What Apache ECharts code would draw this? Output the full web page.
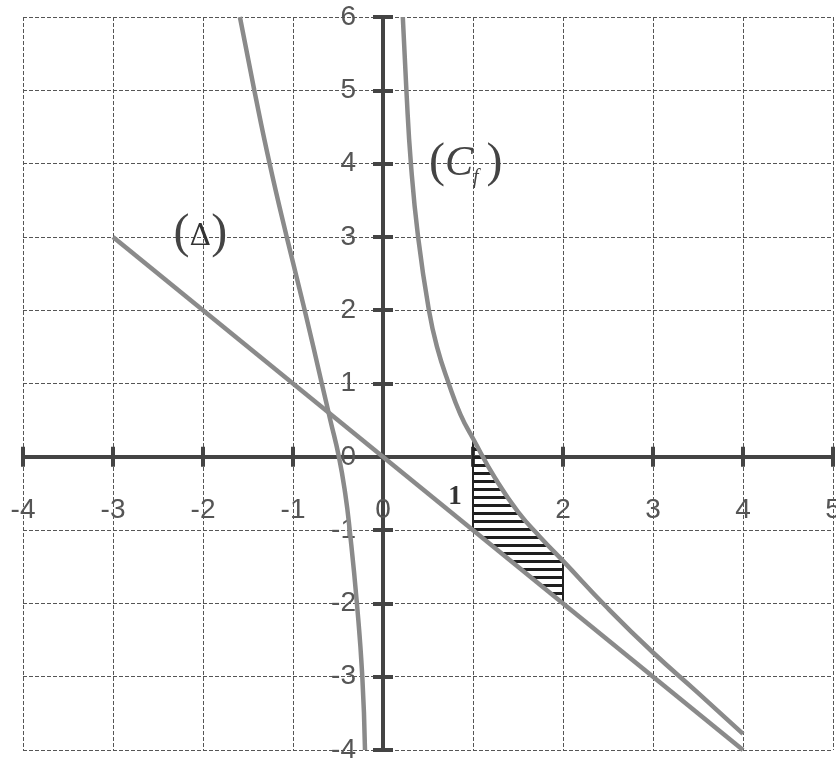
<!DOCTYPE html>
<html>
<head>
<meta charset="utf-8">
<title>Cf et Delta</title>
<script src="https://cdn.jsdelivr.net/npm/echarts@6.0.0/dist/echarts.min.js"></script>
<style>
html,body{margin:0;padding:0;background:#fff;}
#main{width:836px;height:767px;}
</style>
</head>
<body>
<div id="main"></div>
<script>
// courbe (Cf), branche x>0
var cfRightX = [0.22, 0.26, 0.31, 0.39, 0.51, 0.6, 0.73, 0.86, 1.0, 1.25, 1.5, 1.75, 2.0, 2.5, 3.0, 3.5, 4.0];
var cfRightY = [6.0, 5.0, 4.0, 3.0, 2.0, 1.5, 1.0, 0.58, 0.25, -0.3, -0.75, -1.1, -1.42, -2.07, -2.67, -3.22, -3.78];
// courbe, branche x<0
var cfLeftX = [-1.59, -1.43, -1.26, -1.07, -0.87, -0.68, -0.585, -0.49, -0.42, -0.37, -0.29, -0.23, -0.2];
var cfLeftY = [6, 5, 4, 3, 2, 1, 0.5, 0, -0.5, -1, -2, -3, -4];
// droite (Delta)
var deltaX = [-3, 4];
var deltaY = [3, -4];
// zone hachuree entre x=1 et x=2
var hatchX = [1, 1.25, 1.5, 1.75, 2];
var hatchTop = [0.25, -0.3, -0.75, -1.1, -1.42];
var hatchBottom = [-1, -1.25, -1.5, -1.75, -2];
// bornes des axes
var xMin = -4, xMax = 5;
var yMin = -4, yMax = 6;

// marges de la grille (px)
var W = 836, H = 767;
var gLeft = 23, gRight = 3, gTop = 17, gBottom = 17;
// decalage des etiquettes pour les ramener sur les axes passant par 0
var xLabOffset = -(0 - yMin) * (H - gTop - gBottom) / (yMax - yMin);
var yLabOffset = -(0 - xMin) * (W - gLeft - gRight) / (xMax - xMin);

function toPoints(xs, ys){
	var out = [];
	for (var i = 0; i < xs.length; i++) {
		out.push([xs[i], ys[i]]);
	}
	return out;
}

// motif de hachures horizontales
var pat = document.createElement('canvas');
pat.width = 8;
pat.height = 8;
var pctx = pat.getContext('2d');
pctx.fillStyle = '#1e1e1e';
pctx.fillRect(0, 0, 8, 3);

var axisCol = '#444';
var curveStyle = {color: '#8a8a8a', width: 4.5};
var labelFont = 'Liberation Sans';

var chart = echarts.init(document.getElementById('main'));
var option = {
	backgroundColor: '#fff',
	animation: false,
	grid: {left: gLeft, right: gRight, top: gTop, bottom: gBottom, containLabel: false, outerBoundsMode: 'none'},
	xAxis: [
		{
			type: 'value', min: xMin, max: xMax, interval: 1, position: 'bottom',
			axisLine: {onZero: true, onZeroAxisIndex: 0, lineStyle: {color: axisCol, width: 4}},
			axisTick: {length: 10, lineStyle: {color: axisCol, width: 4}},
			axisLabel: {show: false},
			splitLine: {show: true, lineStyle: {color: '#555', width: 1, type: [4, 2]}}
		},
		{
			type: 'value', min: xMin, max: xMax, interval: 1, position: 'top',
			axisLine: {onZero: true, onZeroAxisIndex: 0, lineStyle: {color: axisCol, width: 4}},
			axisTick: {length: 10, lineStyle: {color: axisCol, width: 4}},
			axisLabel: {show: false},
			splitLine: {show: false}
		},
		{
			// etiquettes de l'axe des x
			type: 'value', min: xMin, max: xMax, interval: 1, position: 'bottom', offset: xLabOffset,
			axisLine: {show: false, onZero: false},
			axisTick: {show: false},
			axisLabel: {
				margin: 39, fontSize: 28, color: '#555', fontFamily: labelFont,
				formatter: function(v){ return v === 1 ? '' : String(v); }
			},
			splitLine: {show: false}
		},
		{
			// le "1" sous la zone hachuree
			type: 'value', min: xMin, max: xMax, interval: 1, position: 'bottom', offset: xLabOffset,
			axisLine: {show: false, onZero: false},
			axisTick: {show: false},
			axisLabel: {
				margin: 27,
				formatter: function(v){ return v === 1 ? '{one|1}' : ''; },
				rich: {one: {fontSize: 27, fontWeight: 'bold', fontFamily: 'Liberation Serif', color: '#333', padding: [0, 36, 0, 0]}}
			},
			splitLine: {show: false}
		}
	],
	yAxis: [
		{
			type: 'value', min: yMin, max: yMax, interval: 1, position: 'left',
			axisLine: {onZero: true, onZeroAxisIndex: 0, lineStyle: {color: axisCol, width: 4}},
			axisTick: {length: 10, lineStyle: {color: axisCol, width: 4}},
			axisLabel: {show: false},
			splitLine: {show: true, lineStyle: {color: '#555', width: 1, type: [4, 2]}}
		},
		{
			type: 'value', min: yMin, max: yMax, interval: 1, position: 'right',
			axisLine: {onZero: true, onZeroAxisIndex: 0, lineStyle: {color: axisCol, width: 4}},
			axisTick: {length: 10, lineStyle: {color: axisCol, width: 4}},
			axisLabel: {show: false},
			splitLine: {show: false}
		},
		{
			// etiquettes de l'axe des y
			type: 'value', min: yMin, max: yMax, interval: 1, position: 'left', offset: yLabOffset,
			axisLine: {show: false, onZero: false},
			axisTick: {show: false},
			axisLabel: {margin: 27, fontSize: 28, color: '#555', fontFamily: labelFont},
			splitLine: {show: false}
		}
	],
	series: [
		{
			name: 'hachures',
			type: 'custom',
			xAxisIndex: 0, yAxisIndex: 0,
			z: 1,
			data: [[hatchX[0], hatchTop[0]]],
			renderItem: function(params, api){
				var pts = [];
				for (var i = 0; i < hatchX.length; i++) {
					pts.push(api.coord([hatchX[i], hatchTop[i]]));
				}
				for (var j = hatchX.length - 1; j >= 0; j--) {
					pts.push(api.coord([hatchX[j], hatchBottom[j]]));
				}
				return {
					type: 'polygon',
					shape: {points: pts},
					style: {fill: {image: pat, repeat: 'repeat'}, stroke: '#222', lineWidth: 2}
				};
			}
		},
		{
			name: 'Cf gauche',
			type: 'line',
			xAxisIndex: 0, yAxisIndex: 0,
			data: toPoints(cfLeftX, cfLeftY),
			smooth: 0.5, symbol: 'none', z: 3,
			lineStyle: curveStyle
		},
		{
			name: 'Cf droite',
			type: 'line',
			xAxisIndex: 0, yAxisIndex: 0,
			data: toPoints(cfRightX, cfRightY),
			smooth: 0.5, symbol: 'none', z: 3,
			lineStyle: curveStyle,
			markPoint: {
				symbol: 'circle', symbolSize: 0, silent: true,
				label: {
					show: true, position: 'inside',
					formatter: '{p|(}{c|C}{s|f}{p|)}',
					rich: {
						p: {fontFamily: 'Liberation Serif', fontSize: 48, color: '#444'},
						c: {fontFamily: 'Liberation Serif', fontStyle: 'italic', fontSize: 42, color: '#444'},
						s: {fontFamily: 'Liberation Serif', fontStyle: 'italic', fontSize: 20, color: '#444', verticalAlign: 'bottom', padding: [14, 8, 0, 0]}
					}
				},
				data: [{coord: [0.92, 4.0]}]
			}
		},
		{
			name: 'Delta',
			type: 'line',
			xAxisIndex: 0, yAxisIndex: 0,
			data: toPoints(deltaX, deltaY),
			symbol: 'none', z: 3,
			lineStyle: curveStyle,
			markPoint: {
				symbol: 'circle', symbolSize: 0, silent: true,
				label: {
					show: true, position: 'inside',
					formatter: '{p|(}{d|Δ}{p|)}',
					rich: {
						p: {fontFamily: 'Liberation Serif', fontSize: 48, color: '#444'},
						d: {fontFamily: 'DejaVu Serif', fontSize: 30, color: '#333', padding: [6, 0, 0, 0]}
					}
				},
				data: [{coord: [-2.03, 3.03]}]
			}
		}
	]
};
chart.setOption(option);
</script>
</body>
</html>
